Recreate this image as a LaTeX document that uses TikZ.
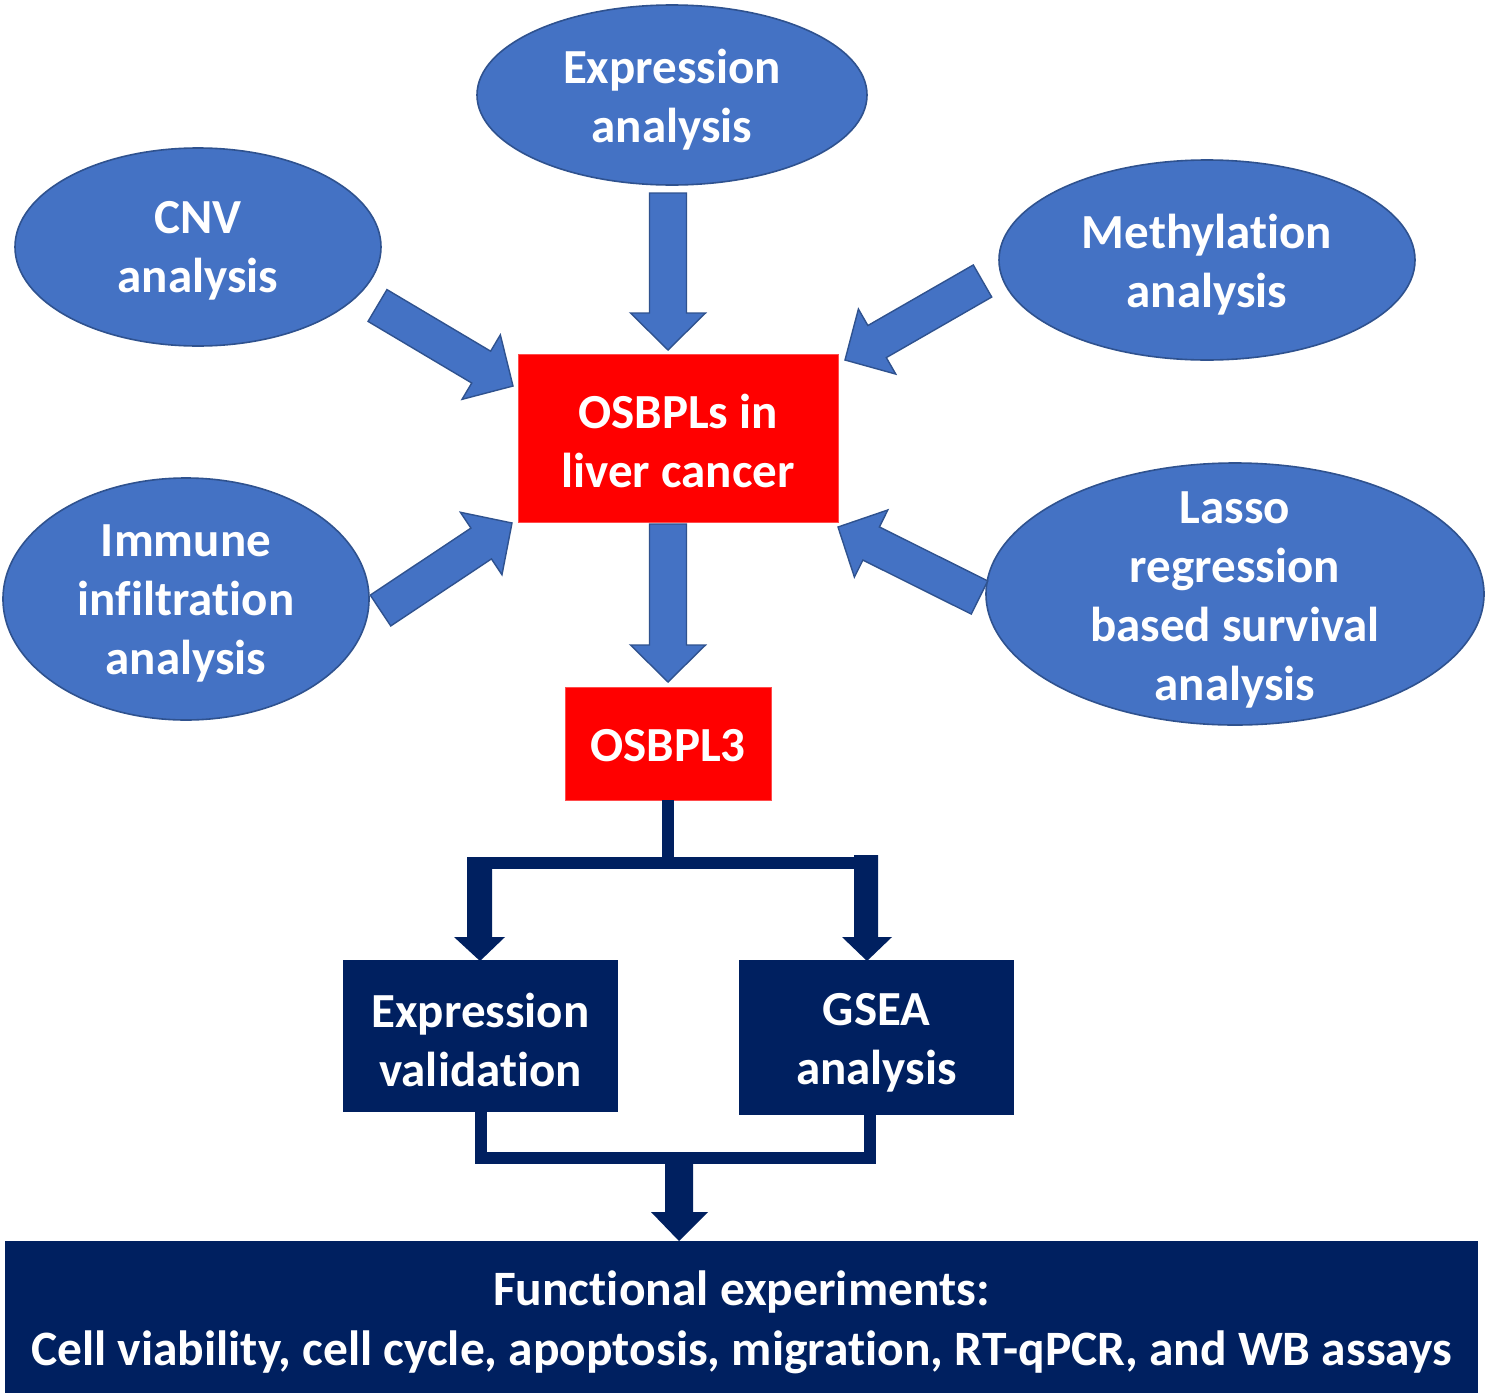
\documentclass[tikz,border=0pt]{standalone}
\usepackage{fontspec}
\setmainfont{Carlito}[Ligatures=NoCommon]
\usetikzlibrary{shapes.geometric}
\definecolor{ablue}{HTML}{4472C4}
\definecolor{ablueedge}{HTML}{2F528F}
\definecolor{navy}{HTML}{002060}
\definecolor{ared}{HTML}{FF0000}
\newcommand{\blockarrow}[4]{%
  \pgfmathsetmacro\baAng{atan2(-(#4-#2),#3-#1)}%
  \pgfmathsetmacro\baLen{veclen(#3-#1,#4-#2)}%
  \begin{scope}[shift={(#1,#2)},rotate=\baAng]
    \draw[barrow] (0,-18.5) -- ({\baLen-37},-18.5) -- ({\baLen-37},-37.5) -- (\baLen,0)
      -- ({\baLen-37},37.5) -- ({\baLen-37},18.5) -- (0,18.5) -- cycle;
  \end{scope}}
\begin{document}
\begin{tikzpicture}[x=1pt,y=-1pt,
  blob/.style={ellipse,draw=ablueedge,fill=ablue,line width=1.6pt,inner sep=0pt},
  redbox/.style={rectangle,fill=ared,draw=ared!70!white,line width=0.8pt,inner sep=0pt},
  navybox/.style={rectangle,fill=navy,inner sep=0pt},
  txt/.style={text=white,font=\fontsize{49}{59}\selectfont\bfseries,align=center,inner sep=0pt},
  barrow/.style={fill=ablue,draw=ablueedge,line width=1.4pt,line join=miter}]
\useasboundingbox (0,0) rectangle (1488,1395);
\fill[white] (0,0) rectangle (1488,1395);

% ellipses
\node[blob,minimum width=390,minimum height=180] (expr) at (672,95) {};
\node[txt] (exprt) at (672,100) {Expression\\analysis};
\node[blob,minimum width=366,minimum height=198] (cnv) at (198,247) {};
\node[txt] (cnvt) at (198,251) {CNV\\analysis};
\node[blob,minimum width=416,minimum height=200] (meth) at (1207,260) {};
\node[txt] (metht) at (1207,265) {Methylation\\analysis};
\node[blob,minimum width=366,minimum height=242] (imm) at (186,599) {};
\node[txt] (immt) at (186,603) {Immune\\infiltration\\analysis};
\node[blob,minimum width=498,minimum height=262] (lasso) at (1235,594) {};
\node[txt] (lassot) at (1235,600) {Lasso\\regression\\based survival\\analysis};

% red boxes
\node[redbox,minimum width=320,minimum height=168] (osb) at (678,438) {};
\node[txt] (osbt) at (678,441) {OSBPLs in\\liver cancer};
\node[redbox,minimum width=206,minimum height=113] (osb3) at (668,743.5) {};
\node[txt] (osb3t) at (668,746) {OSBPL3};

% navy boxes
\node[navybox,minimum width=275,minimum height=152] (val) at (480.5,1036) {};
\node[txt] (valt) at (480.5,1040) {Expression\\validation};
\node[navybox,minimum width=275,minimum height=155] (gsea) at (876.5,1037.5) {};
\node[txt] (gseat) at (876.5,1043) {GSEA\\analysis};
\node[navybox,minimum width=1473,minimum height=152] (func) at (741.5,1317) {};
\node[txt,font=\fontsize{49.5}{60}\selectfont\bfseries] (funct) at (741.5,1322) {Functional experiments:\\Cell viability, cell cycle, apoptosis, migration, RT-qPCR, and WB assays};

% blue block arrows
\blockarrow{668}{193}{668}{350}
\blockarrow{668}{524}{668}{682}
\blockarrow{377.5}{305.5}{513}{386}
\blockarrow{982.5}{281}{845}{360}
\blockarrow{380.5}{610.5}{512}{523}
\blockarrow{979.5}{597.5}{838}{527}

% navy connectors
\fill[navy] (osb3.south -| 662,0) rectangle (674,863);
\fill[navy] (467,857) rectangle (878,869);
\fill[navy] (467,857) -- (492,857) -- (492,937) -- (505,937) -- (480,961) -- (454,937) -- (467,937) -- cycle;
\fill[navy] (854,855) -- (878,855) -- (878,937) -- (892,937) -- (867,961) -- (842,937) -- (854,937) -- cycle;
\fill[navy] (val.south -| 475,0) rectangle (487,1164);
\fill[navy] (gsea.south -| 864,0) rectangle (876,1164);
\fill[navy] (475,1152) rectangle (876,1164);
\fill[navy] (665,1163) -- (693,1163) -- (693,1212) -- (708,1212) -- (679,1241) -- (651,1212) -- (665,1212) -- cycle;
\end{tikzpicture}
\end{document}
